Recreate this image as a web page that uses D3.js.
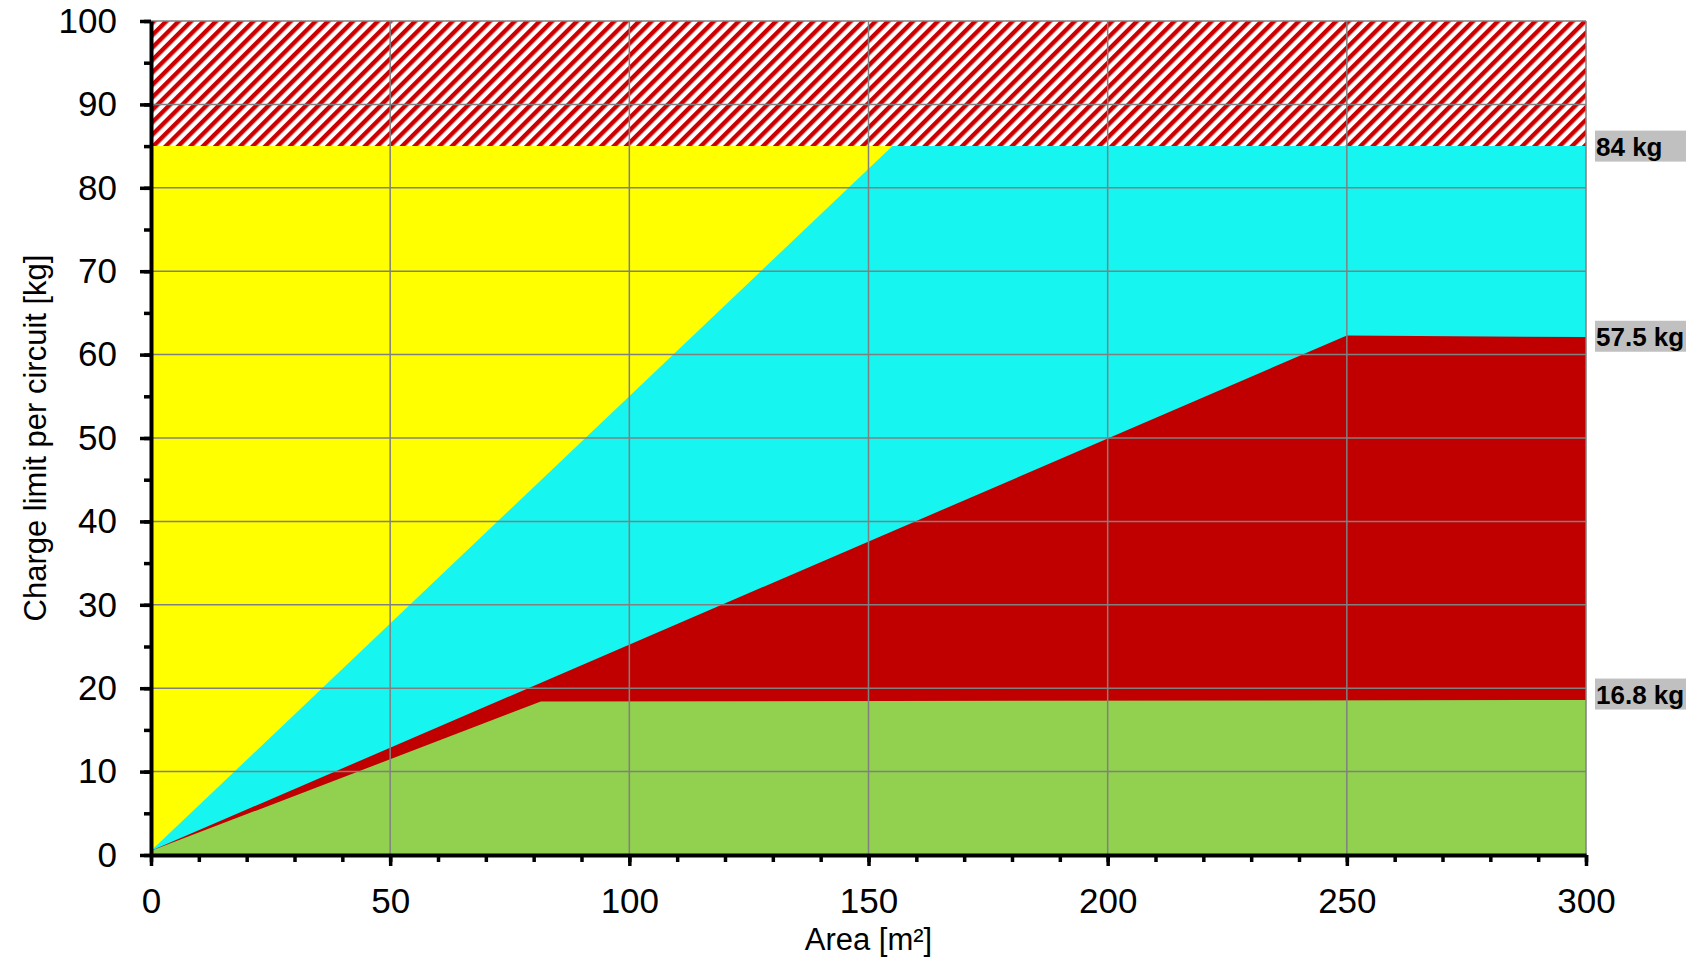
<!DOCTYPE html>
<html>
<head>
<meta charset="utf-8">
<script src="https://cdn.jsdelivr.net/npm/d3@7"></script>
<style>
	body { margin: 0; background: #fff; }
	text { font-family: "Liberation Sans", Arial, sans-serif; }
</style>
</head>
<body>
<div id="chart"></div>
<script>
// data
const xTicks = [0, 50, 100, 150, 200, 250, 300];
const xMinor = d3.range(0, 301, 10);
const yTicks = [0, 10, 20, 30, 40, 50, 60, 70, 80, 90, 100];
const yMinor = d3.range(0, 101, 5);

// boundary lines of each zone, [area, charge]
const yellowTop = [[0, 85], [300, 85]];
const cyanTop = [[0, 0.5], [155, 85], [300, 85]];
const redTop = [[0, 0.5], [250, 62.3], [300, 62.1]];
const greenTop = [[0, 0.5], [81.5, 18.4], [300, 18.6]];
const hatchBand = [[0, 85, 100], [300, 85, 100]];

const labelText = ["84 kg", "57.5 kg", "16.8 kg"];
const labelAt = [85, 62.2, 19.3];

// set the dimensions and margins of the graph
const margin = { top: 21, right: 103, bottom: 105, left: 151 },
	width = 1689 - margin.left - margin.right,
	height = 960 - margin.top - margin.bottom;

const svg = d3.select("#chart")
	.append("svg")
	.attr("width", width + margin.left + margin.right)
	.attr("height", height + margin.top + margin.bottom)
	.append("g")
	.attr("transform", `translate(${margin.left},${margin.top})`);

const x = d3.scaleLinear().domain([0, 300]).range([0, width]);
const y = d3.scaleLinear().domain([0, 100]).range([height, 0]);

// hatch pattern for the top band
const defs = svg.append("defs");
const pat = defs.append("pattern")
	.attr("id", "hatch")
	.attr("patternUnits", "userSpaceOnUse")
	.attr("width", 8.8)
	.attr("height", 8.8)
	.attr("patternTransform", "rotate(45)");
pat.append("rect").attr("width", 8.8).attr("height", 8.8).attr("fill", "#fff");
pat.append("rect").attr("width", 4.4).attr("height", 8.8).attr("fill", "#cc0000");

const area = d3.area()
	.x(d => x(d[0]))
	.y0(y(0))
	.y1(d => y(d[1]));

// zones, back to front
svg.append("path").datum(yellowTop).attr("d", area).attr("fill", "#ffff00");
svg.append("path").datum(cyanTop).attr("d", area).attr("fill", "#17f5f1");
svg.append("path").datum(redTop).attr("d", area).attr("fill", "#c00000");
svg.append("path").datum(greenTop).attr("d", area).attr("fill", "#92d050");

svg.append("path")
	.datum(hatchBand)
	.attr("d", d3.area()
		.x(d => x(d[0]))
		.y0(d => y(d[1]))
		.y1(d => y(d[2])))
	.attr("fill", "url(#hatch)");

// grid
const grid = svg.append("g").attr("stroke", "#808080").attr("stroke-width", 1.5);
grid.selectAll(".gx")
	.data(xTicks.slice(1))
	.join("line")
	.attr("x1", d => x(d)).attr("x2", d => x(d))
	.attr("y1", 0).attr("y2", height);
grid.selectAll(".gy")
	.data(yTicks.slice(1))
	.join("line")
	.attr("x1", 0).attr("x2", width)
	.attr("y1", d => y(d)).attr("y2", d => y(d));

// labels on the right
const lab = svg.append("g")
	.selectAll("g")
	.data(labelText)
	.join("g")
	.attr("transform", (d, i) => `translate(${width + 9},${y(labelAt[i])})`);
lab.append("rect")
	.attr("x", 0)
	.attr("y", -15.5)
	.attr("width", 91)
	.attr("height", 31)
	.attr("fill", "#c0c0c0");
lab.append("text")
	.attr("x", 1)
	.attr("dy", "0.37em")
	.style("font-size", "26px")
	.style("font-weight", "bold")
	.attr("fill", "#000")
	.text(d => d);

// minor ticks
svg.append("g")
	.attr("transform", `translate(0,${height})`)
	.call(d3.axisBottom(x).tickValues(xMinor).tickSize(7).tickFormat(""))
	.call(g => g.select(".domain").remove())
	.call(g => g.selectAll("line").attr("stroke", "#000").attr("stroke-width", 3.5));
svg.append("g")
	.call(d3.axisLeft(y).tickValues(yMinor).tickSize(7).tickFormat(""))
	.call(g => g.select(".domain").remove())
	.call(g => g.selectAll("line").attr("stroke", "#000").attr("stroke-width", 3.5));

// X axis
svg.append("g")
	.attr("transform", `translate(0,${height})`)
	.call(d3.axisBottom(x).tickValues(xTicks).tickSize(11).tickSizeOuter(0).tickPadding(22))
	.call(g => g.select(".domain").attr("stroke", "#000").attr("stroke-width", 4))
	.call(g => g.selectAll("line").attr("stroke", "#000").attr("stroke-width", 3.5))
	.call(g => g.selectAll("text")
		.attr("fill", "#000")
		.style("font-size", "35px")
		.style("font-family", "'Liberation Sans', Arial, sans-serif"));

// Y axis
svg.append("g")
	.call(d3.axisLeft(y).tickValues(yTicks).tickSize(11).tickSizeOuter(0).tickPadding(23))
	.call(g => g.select(".domain").attr("stroke", "#000").attr("stroke-width", 4))
	.call(g => g.selectAll("line").attr("stroke", "#000").attr("stroke-width", 3.5))
	.call(g => g.selectAll("text")
		.attr("fill", "#000")
		.style("font-size", "35px")
		.style("font-family", "'Liberation Sans', Arial, sans-serif"));

// axis titles
svg.append("text")
	.attr("x", width / 2)
	.attr("y", height + 95)
	.attr("text-anchor", "middle")
	.style("font-size", "31px")
	.text("Area [m²]");

svg.append("text")
	.attr("transform", `translate(${-105},${height / 2}) rotate(-90)`)
	.attr("text-anchor", "middle")
	.style("font-size", "31px")
	.text("Charge limit per circuit [kg]");
</script>
</body>
</html>
